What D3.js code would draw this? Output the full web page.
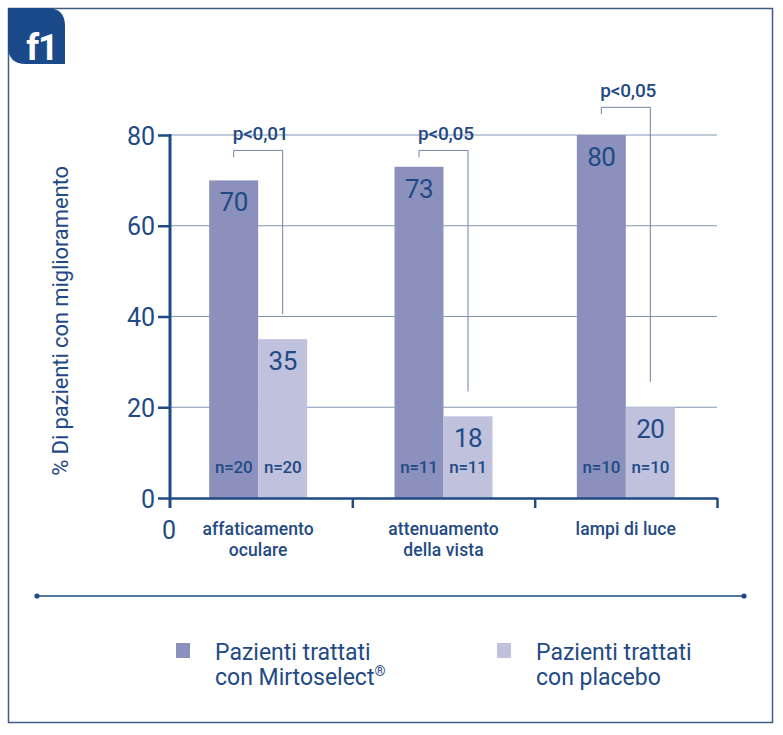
<!DOCTYPE html>
<html><head><meta charset="utf-8">
<script src="https://cdn.jsdelivr.net/npm/d3@7"></script>
<style>body{margin:0;background:#fff}svg{display:block;font-family:Roboto,"Noto Sans",sans-serif}</style>
</head><body>
<script>
const categories = [["affaticamento","oculare"],["attenuamento","della vista"],["lampi di luce"]];
const series = [["Pazienti trattati", "con Mirtoselect", "®"], ["Pazienti trattati", "con placebo", ""]];
const mirtoselect = [70, 73, 80];
const placebo = [35, 18, 20];
const nMirto = [20, 11, 10];
const nPlacebo = [20, 11, 10];
const pLabels = ["p<0,01", "p<0,05", "p<0,05"];
const bracketLevel = [76.6, 76.6, 86.1];
const yTicks = [0, 20, 40, 60, 80];

(function(){
const W = 783, H = 735;
const navy = "#1f4a85", dark = "#8b91bc", light = "#bfc1dd", grid = "#8196b8";
const svg = d3.select("body").append("svg").attr("width", W).attr("height", H);

// frame
svg.append("rect").attr("x", 8.5).attr("y", 8.5).attr("width", 764).attr("height", 714)
  .attr("fill", "none").attr("stroke", "#3d5c88").attr("stroke-width", 1.5);
// tab
const tx = 8, ty = 8, tw = 57, th = 56, r = 18;
svg.append("path").attr("fill", "#1b4a8a")
  .attr("d", `M${tx},${ty} H${tx+tw-r} Q${tx+tw},${ty} ${tx+tw},${ty+r} V${ty+th} H${tx+r} Q${tx},${ty+th} ${tx},${ty+th-r} Z`);
svg.append("text").attr("x", 42).attr("y", 60).attr("text-anchor", "middle")
  .attr("fill", "#fff").attr("font-size", 36).attr("font-weight", 700).attr("letter-spacing", -1).text("f1");

const pl = 170, pr = 717, pt = 135, pb = 498;
const y = d3.scaleLinear().domain([0, 80]).range([pb, pt]);
const x0 = d3.scaleBand().domain(d3.range(categories.length)).range([pl, pr]).padding(0);
const barW = 49;
const x1 = d3.scaleBand().domain([0, 1]).range([x0.bandwidth()/2 - barW, x0.bandwidth()/2 + barW]);
const xb = d3.scaleLinear().domain([0, categories.length]).range([pl, pr]);

// grid
svg.append("g").selectAll("line").data(yTicks.filter(d => d > 0)).join("line")
  .attr("x1", pl).attr("x2", pr).attr("y1", d => y(d)).attr("y2", d => y(d))
  .attr("stroke", grid).attr("stroke-width", 1);

// bars
const groups = svg.append("g").selectAll("g").data(categories.map((c, i) => i)).join("g")
  .attr("transform", i => `translate(${x0(i) - (i === 0 ? 3 : 0)},0)`);
const vals = [mirtoselect, placebo], ns = [nMirto, nPlacebo], cols = [dark, light];
[0, 1].forEach(s => {
  groups.append("rect").attr("x", x1(s)).attr("width", x1.bandwidth())
    .attr("y", i => y(vals[s][i])).attr("height", i => y(0) - y(vals[s][i])).attr("fill", cols[s]);
  groups.append("text").attr("x", x1(s) + x1.bandwidth()/2).attr("y", i => y(vals[s][i]) + 31)
    .attr("text-anchor", "middle").attr("fill", navy).attr("font-size", 26).attr("letter-spacing", -0.5).text(i => vals[s][i]);
  groups.append("text").attr("x", x1(s) + x1.bandwidth()/2).attr("y", 473)
    .attr("text-anchor", "middle").attr("fill", navy).attr("font-size", 17).attr("font-weight", 500)
    .attr("letter-spacing", -0.2).text(i => "n=" + ns[s][i]);
});

// brackets
const bx = s => x1(s) + x1.bandwidth()/2;
groups.append("path").attr("fill", "none").attr("stroke", "#6f84a6").attr("stroke-width", 1)
  .attr("d", i => `M${bx(0)},${y(bracketLevel[i] - 1.5)} V${y(bracketLevel[i])} H${bx(1)} V${y(placebo[i] + 5.5)}`);
groups.append("text").attr("x", bx(0) - 1).attr("y", i => y(bracketLevel[i]) - 10)
  .attr("fill", navy).attr("font-size", 19).attr("font-weight", 500).attr("letter-spacing", -0.2)
  .text(i => pLabels[i]);

// y axis
const ya = svg.append("g").attr("transform", `translate(${pl},0)`)
  .call(d3.axisLeft(y).tickValues(yTicks).tickSize(12).tickPadding(3).tickSizeOuter(0));
ya.select(".domain").remove();
ya.selectAll(".tick line").attr("stroke", navy).attr("stroke-width", 2.5);
ya.selectAll(".tick text").attr("fill", navy).attr("font-size", 25).attr("font-family", "Roboto").attr("dy", "0.36em");
svg.append("line").attr("x1", pl).attr("x2", pl).attr("y1", pt - 1).attr("y2", pb + 10)
  .attr("stroke", navy).attr("stroke-width", 3);

// x axis
const xa = svg.append("g").attr("transform", `translate(0,${pb})`)
  .call(d3.axisBottom(xb).tickValues(d3.range(1, categories.length + 1)).tickSize(10).tickFormat("").tickSizeOuter(0));
xa.select(".domain").attr("stroke", navy).attr("stroke-width", 2.5);
xa.selectAll(".tick line").attr("stroke", navy).attr("stroke-width", 2.5);
svg.append("text").attr("x", pl - 1).attr("y", 539).attr("text-anchor", "middle")
  .attr("fill", navy).attr("font-size", 25).text("0");

// category labels
groups.each(function(i) {
  const g = d3.select(this);
  categories[i].forEach((line, k) => g.append("text").attr("text-anchor", "middle").attr("fill", navy)
    .attr("font-size", 17.5).attr("font-weight", 500).attr("letter-spacing", 0.1)
    .attr("x", x0.bandwidth()/2).attr("y", 535 + k * 20.5).text(line));
});

// y title
svg.append("text").attr("transform", "translate(68,321) rotate(-90)").attr("text-anchor", "middle")
  .attr("fill", navy).attr("font-size", 22).attr("letter-spacing", -0.1).text("% Di pazienti con miglioramento");

// separator
svg.append("line").attr("x1", 37).attr("x2", 744).attr("y1", 596).attr("y2", 596)
  .attr("stroke", navy).attr("stroke-width", 1.5);
svg.selectAll(".dot").data([37, 744]).join("circle").attr("cx", d => d).attr("cy", 596).attr("r", 2.6).attr("fill", navy);

// legend
const lg = svg.append("g").selectAll("g").data(series).join("g")
  .attr("transform", (d, i) => `translate(${[176, 497][i]},643)`);
lg.append("rect").attr("width", 14).attr("height", 15).attr("fill", (d, i) => cols[i]);
lg.each(function(d) {
  const g = d3.select(this);
  g.append("text").attr("fill", navy).attr("font-size", 23).attr("x", 39).attr("y", 17).text(d[0]);
  const t = g.append("text").attr("fill", navy).attr("font-size", 23).attr("x", 39).attr("y", 42).text(d[1]);
  if (d[2]) t.append("tspan").attr("font-size", 14).attr("dy", -9).text(d[2]);
});
})();
</script>
</body></html>
